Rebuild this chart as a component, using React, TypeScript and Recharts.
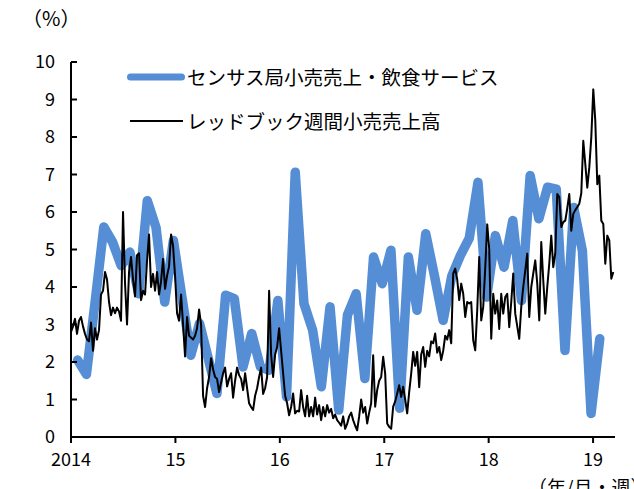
import React from "react";
import { LineChart, Line, XAxis, YAxis, Legend } from "recharts";

const FONT = '"Noto Sans CJK JP", "Noto Sans", sans-serif';
const BLUE = "#558ED5";

// Year ticks on the bottom axis
const yearTicks = [2014, 2015, 2016, 2017, 2018, 2019];
const pctTicks = [0, 1, 2, 3, 4, 5, 6, 7, 8, 9, 10];

// Census Bureau retail & food services, YoY %, monthly Jan 2014 - Jan 2019
const censusRetail = [
  2.05, 1.67, 3.6, 5.6, 5.2, 4.57, 4.93, 3.82, 6.3, 5.59, 3.6, 5.24,
  3.7, 2.18, 3.03, 2.1, 1.16, 3.78, 3.69, 1.87, 2.76, 1.87, 1.78, 3.64,
  1.07, 7.06, 3.56, 2.85, 1.34, 3.47, 0.72, 3.25, 3.82, 1.56, 4.8, 4.09,
  4.98, 0.77, 4.8, 3.38, 5.42, 4.3, 3.11, 4.3, 4.85, 5.3, 6.79, 3.73,
  5.37, 4.53, 5.77, 3.64, 6.97, 5.82, 6.66, 6.61, 2.31, 6.12, 4.97, 0.63,
  2.62,
];

// Redbook weekly same-store sales, YoY %, first week of 2014 onward
const redbookWeekly = [
  2.8, 2.95, 3.15, 2.75, 3.1, 3.2, 2.95, 2.75, 2.6, 2.55,
  3.05, 2.3, 2.9, 2.6, 2.85, 3.8, 3.9, 4.4, 4.2, 3.6,
  3.25, 3.45, 3.3, 3.45, 3.35, 3.1, 6.0, 4.1, 3.0, 4.4,
  4.8, 4.2, 3.75, 4.85, 4.9, 3.65, 3.9, 3.8, 4.7, 5.4,
  4.0, 4.35, 3.9, 4.4, 3.8, 4.15, 4.75, 3.95, 4.3, 4.55,
  5.4, 5.1, 4.3, 3.3, 3.1, 3.8, 3.0, 2.15, 3.2, 2.7,
  2.65, 2.6, 2.7, 2.9, 3.4, 3.0, 1.1, 0.8, 1.3, 1.6,
  2.1, 1.8, 1.6, 1.55, 1.2, 1.45, 1.7, 1.85, 1.35, 1.55,
  1.7, 1.05, 1.5, 1.85, 1.65, 1.55, 1.25, 1.7, 1.3, 0.9,
  0.8, 0.72, 1.1, 1.3, 1.6, 1.85, 1.15, 1.3, 1.6, 3.9,
  2.2, 1.6, 2.2, 2.4, 2.9, 2.3, 1.7, 1.1, 0.9, 0.58,
  0.8, 1.16, 0.63, 0.7, 0.68, 1.25, 0.8, 0.55, 1.1, 0.55,
  0.8, 0.55, 1.05, 0.6, 0.85, 0.45, 0.8, 0.55, 0.85, 0.65,
  0.75, 0.5, 0.6, 0.45, 0.38, 0.3, 0.55, 0.22, 0.35, 0.55,
  0.65, 0.45, 0.3, 0.18, 0.55, 1.0, 0.65, 0.8, 0.36, 0.65,
  0.9, 2.18, 0.81, 1.25, 1.5, 1.6, 2.14, 1.69, 0.36, 0.27,
  0.22, 0.81, 0.95, 1.16, 1.38, 1.07, 1.34, 1.0, 0.63, 1.2,
  1.69, 2.27, 1.9, 2.27, 1.33, 2.2, 2.4, 1.87, 2.3, 2.15,
  2.55, 2.5, 2.76, 2.25, 2.4, 2.05, 2.3, 2.7, 2.6, 2.85,
  2.5, 4.36, 4.49, 4.2, 3.65, 4.09, 3.82, 3.2, 3.6, 3.56,
  3.6, 2.58, 2.31, 3.38, 4.8, 3.11, 3.47, 4.5, 5.67, 5.0,
  2.62, 3.82, 3.29, 3.64, 2.88, 3.82, 3.29, 3.73, 3.82, 2.93,
  3.6, 4.36, 3.29, 2.95, 2.62, 3.47, 4.0, 4.44, 4.89, 3.2,
  4.0, 4.36, 4.71, 4.09, 3.11, 5.2, 4.18, 3.29, 4.0, 4.62,
  5.37, 4.53, 4.9, 6.48, 6.4, 5.6, 5.73, 5.77, 6.1, 6.48,
  5.5, 5.95, 6.05, 6.13, 6.22, 6.5, 7.9, 7.28, 6.65, 7.19,
  7.99, 9.27, 8.43, 6.74, 6.97, 5.77, 5.68, 4.62, 5.37, 5.24,
  4.22, 4.4,
];

// monthly figures sit near the end of their month, weekly ones on a 7-day grid
const censusData = censusRetail.map((v, i) => ({ x: 2014 + (i + 0.77) / 12, v }));
const redbookData = redbookWeekly.map((v, i) => ({ x: 2014 + (i * 7) / 365.25, v }));

const AXIS_X = 71;

function PctTick({ y, payload }: { y?: number; payload?: { value: number } }) {
  if (y == null || !payload) return null;
  return (
    <g>
      <line x1={AXIS_X} x2={AXIS_X + 6} y1={y} y2={y} stroke="#000" strokeWidth={2} />
      <text x={55} y={y} dy="0.36em" textAnchor="end" fontSize={18} fontFamily={FONT} fill="#000">
        {payload.value}
      </text>
    </g>
  );
}

function SeriesLegend() {
  const row: React.CSSProperties = { display: "flex", alignItems: "center", height: 22, whiteSpace: "nowrap" };
  return (
    <div style={{ fontFamily: FONT, fontSize: 19.5, lineHeight: 1, color: "#000" }}>
      <div style={row}>
        <svg width={60} height={10}>
          <line x1={3.5} y1={5} x2={54.5} y2={5} stroke={BLUE} strokeWidth={7} strokeLinecap="round" />
        </svg>
        <span>センサス局小売売上・飲食サービス</span>
      </div>
      <div style={{ ...row, marginTop: 22 }}>
        <svg width={60} height={10}>
          <line x1={3} y1={5} x2={56} y2={5} stroke="#000" strokeWidth={2} />
        </svg>
        <span>レッドブック週間小売売上高</span>
      </div>
    </div>
  );
}

export default function App() {
  return (
    <div
      style={{
        position: "fixed",
        left: 0,
        top: 0,
        width: 634,
        height: 489,
        overflow: "hidden",
        background: "#fff",
        fontFamily: FONT,
      }}
    >
      <LineChart width={634} height={489} margin={{ top: 62, right: 19, bottom: 22, left: 0 }}>
        <XAxis
          type="number"
          dataKey="x"
          domain={[2014, 2019.21]}
          allowDataOverflow
          ticks={yearTicks}
          tickFormatter={(v: number) => (v === 2014 ? "2014" : String(v).slice(2))}
          height={30}
          tickSize={6}
          tickMargin={10}
          axisLine={{ stroke: "#000", strokeWidth: 2 }}
          tickLine={{ stroke: "#000", strokeWidth: 2 }}
          tick={{ fontSize: 18, fill: "#000", fontFamily: FONT }}
        />
        <YAxis
          type="number"
          domain={[0, 10]}
          ticks={pctTicks}
          width={71}
          axisLine={{ stroke: "#000", strokeWidth: 2 }}
          tickLine={false}
          tick={<PctTick />}
        />
        <Legend
          layout="vertical"
          align="center"
          verticalAlign="middle"
          content={<SeriesLegend />}
          wrapperStyle={{ top: 66, left: 127, width: "auto", height: "auto" }}
        />
        <Line
          data={censusData}
          dataKey="v"
          type="linear"
          stroke={BLUE}
          strokeWidth={9.5}
          strokeLinejoin="round"
          strokeLinecap="round"
          dot={false}
          isAnimationActive={false}
        />
        <Line
          data={redbookData}
          dataKey="v"
          type="linear"
          stroke="#000"
          strokeWidth={2}
          strokeLinejoin="round"
          dot={false}
          isAnimationActive={false}
        />
      </LineChart>
      <span style={{ position: "absolute", left: 22, top: 8, fontSize: 20, lineHeight: 1 }}>（%）</span>
      <span style={{ position: "absolute", left: 528, top: 477, fontSize: 19, lineHeight: 1, whiteSpace: "nowrap" }}>
        （年/月・週）
      </span>
    </div>
  );
}
